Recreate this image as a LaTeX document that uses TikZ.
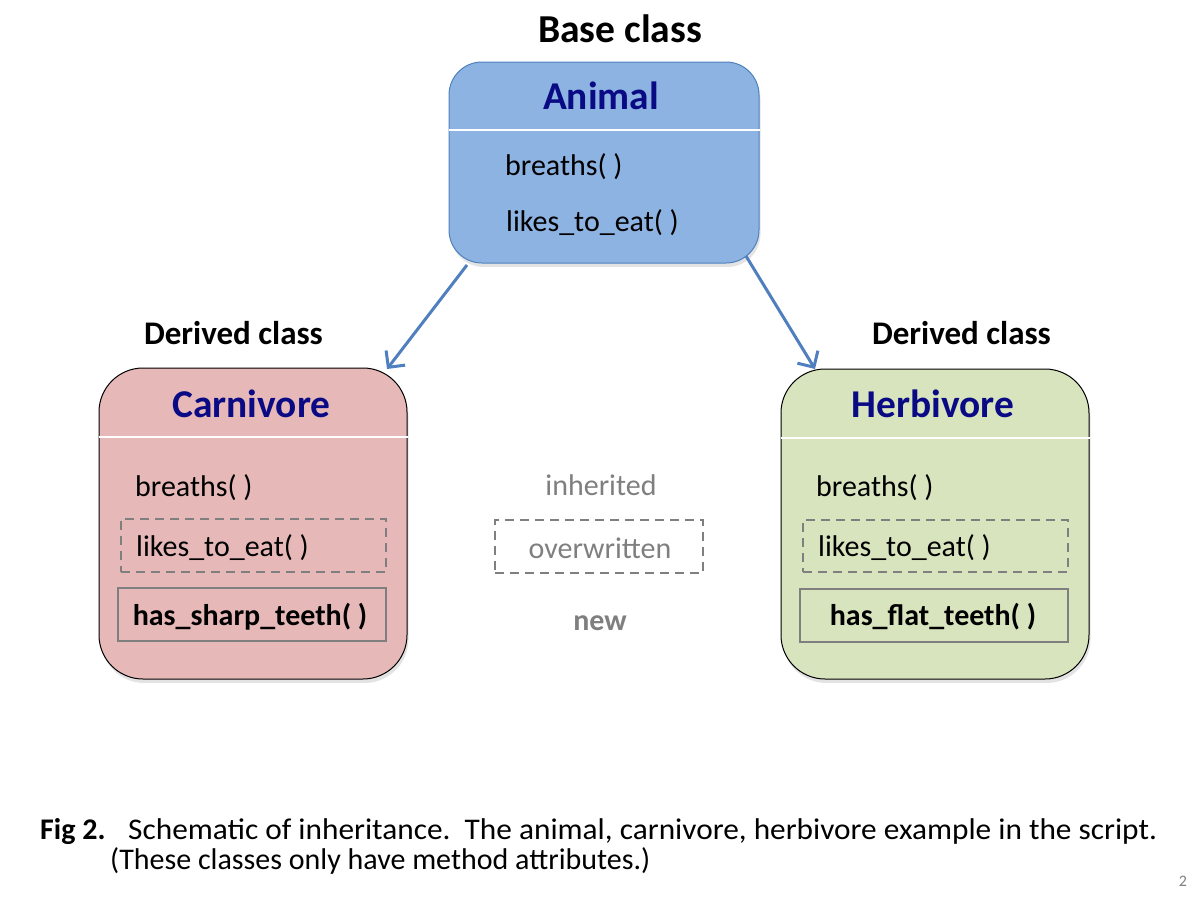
\documentclass[tikz,border=0pt]{standalone}
\usepackage{fontspec}
\setmainfont{Carlito}
\usetikzlibrary{arrows.meta,shadows}
\definecolor{animalfill}{HTML}{8DB3E2}
\definecolor{animaldraw}{HTML}{4F81BD}
\definecolor{carnfill}{HTML}{E6B9B8}
\definecolor{herbfill}{HTML}{D7E4BD}
\definecolor{titleblue}{HTML}{0A0A85}
\definecolor{legendgray}{HTML}{7F7F7F}
\definecolor{arrowblue}{HTML}{4F7FBF}
\newcommand\fsbody{\fontsize{30}{36}\selectfont}
\newcommand\fstitle{\fontsize{39.4}{47}\selectfont}
\tikzset{
  classbox/.style={rectangle, inner sep=0, line width=1pt,
    drop shadow={opacity=0.22, shadow xshift=1.5pt, shadow yshift=-4pt}},
  divider/.style={draw=white, line width=1.2pt},
  titletext/.style={anchor=base, inner sep=0, font=\fstitle\bfseries, text=titleblue},
  methodtext/.style={anchor=base west, inner sep=0, font=\fsbody},
  newtext/.style={anchor=base, inner sep=0, font=\fsbody\bfseries},
  overbox/.style={draw=legendgray, line width=2pt, dash pattern=on 9pt off 6pt, inner sep=0},
  newbox/.style={draw=legendgray, line width=2pt, inner sep=0},
  headtext/.style={anchor=base, inner sep=0, font=\fontsize{33}{40}\selectfont\bfseries},
  legendtext/.style={anchor=base, inner sep=0, font=\fsbody, text=legendgray},
  inherit/.style={draw=arrowblue, line width=3pt, -{Straight Barb[length=12pt,width=24pt,line width=3pt]}},
  captext/.style={anchor=base west, inner sep=0, font=\fsbody},
}
\begin{document}
\begin{tikzpicture}[x=1pt,y=-1pt]
\useasboundingbox (0,0) rectangle (1200,900);

% headers
\node[anchor=base, inner sep=0, font=\fontsize{39.6}{47}\selectfont\bfseries] (basehead) at (620,42) {Base class};
\node[headtext] (lefthead) at (233.5,344) {Derived class};
\node[headtext] (righthead) at (961.5,344) {Derived class};

% Animal
\node[classbox, fill=animalfill, draw=animaldraw, rounded corners=33pt,
  minimum width=310pt, minimum height=201pt] (animal) at (604,162.5) {};
\draw[divider] (animal.west |- 0,130) -- (animal.east |- 0,130);
\node[titletext] (animaltitle) at (601,109) {Animal};
\node[methodtext] (abreath) at (505,175) {breaths( )};
\node[methodtext] (alikes) at (506,231) {likes\_to\_eat( )};

% Carnivore
\node[classbox, fill=carnfill, draw=black, rounded corners=44pt,
  minimum width=308pt, minimum height=311pt] (carn) at (253,523.5) {};
\draw[divider] (carn.west |- 0,437) -- (carn.east |- 0,437);
\node[titletext] (carntitle) at (251.5,417) {Carnivore};
\node[methodtext] (cbreath) at (135,496) {breaths( )};
\node[overbox, minimum width=265pt, minimum height=53pt] (cover) at (253.5,545.5) {};
\node[methodtext] (clikes) at (136,556) {likes\_to\_eat( )};
\node[newbox, minimum width=268pt, minimum height=53pt] (cnew) at (252,614.5) {};
\node[newtext] (cteeth) at (250,625) {has\_sharp\_teeth( )};

% Herbivore
\node[classbox, fill=herbfill, draw=black, rounded corners=44pt,
  minimum width=308pt, minimum height=310pt] (herb) at (935,524) {};
\draw[divider] (herb.west |- 0,438) -- (herb.east |- 0,438);
\node[titletext] (herbtitle) at (933,417) {Herbivore};
\node[methodtext] (hbreath) at (816,496) {breaths( )};
\node[overbox, minimum width=265pt, minimum height=52pt] (hover) at (935.5,546) {};
\node[methodtext] (hlikes) at (818,556) {likes\_to\_eat( )};
\node[newbox, minimum width=268pt, minimum height=53pt] (hnew) at (934,615.5) {};
\node[newtext] (hteeth) at (933,625) {has\_flat\_teeth( )};

% legend
\node[legendtext] (linh) at (601,495) {inherited};
\node[overbox, minimum width=208pt, minimum height=53pt] (lover) at (599,546.5) {};
\node[legendtext] (lovertext) at (600,558) {overwritten};
\node[legendtext, font=\fsbody\bfseries] (lnew) at (600,630) {new};

% arrows
\coordinate (astartl) at (467,265);
\coordinate (aendl) at (387,369);
\coordinate (astartr) at (746,256);
\coordinate (aendr) at (815,369);
\draw[inherit] (astartl) -- (aendl);
\draw[inherit] (astartr) -- (aendr);

% caption
\node[captext] (figlabel) at (40,839) {\textbf{Fig 2.}};
\node[captext] (cap1) at (128,839) {\scalebox{1.044}[1]{Schematic of inheritance.\ \ The animal, carnivore, herbivore example in the script.}};
\node[captext] (cap2) at (110,869) {(These classes only have method attributes.)};
\node[anchor=base, inner sep=0, font=\fontsize{16}{19}\selectfont, text=legendgray] (pagenum) at (1183,886) {2};
\end{tikzpicture}
\end{document}
